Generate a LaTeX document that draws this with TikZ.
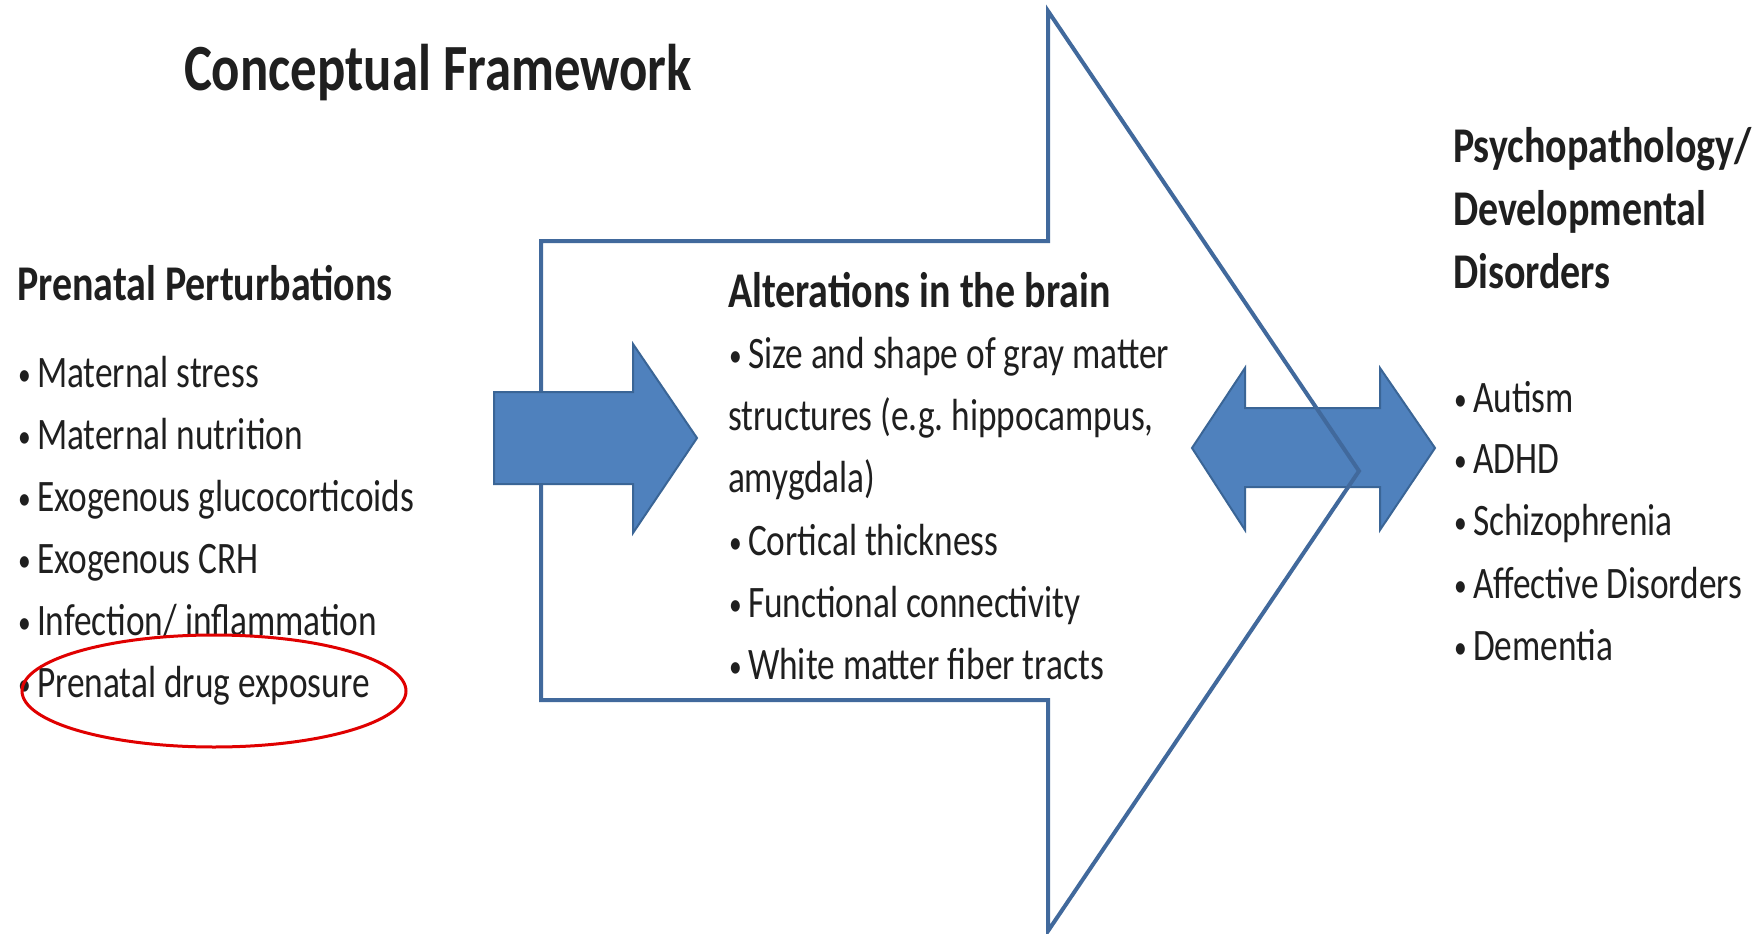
\documentclass[tikz,border=0pt]{standalone}
\usepackage{fontspec}
\usepackage{graphicx}
\setmainfont{Carlito}[FakeStretch=0.8]
\newfontfamily\bodyfont{Carlito}[FakeStretch=0.785]
\definecolor{arrfill}{HTML}{4F81BD}
\definecolor{arrline}{HTML}{3A6596}
\definecolor{outl}{HTML}{41699C}
\definecolor{ovalred}{HTML}{E00000}
\newcommand{\bul}{\makebox[18pt][l]{\hspace{-1pt}\raisebox{2pt}{\scalebox{0.72}{•}}}}
\frenchspacing
\begin{document}
\begin{tikzpicture}[x=1pt,y=-1pt,
  txt/.style={anchor=base west, inner sep=0pt, outer sep=0pt, font=\bodyfont\fontsize{45}{54}\selectfont\frenchspacing, text=black!88},
  hd/.style={anchor=base west, inner sep=0pt, outer sep=0pt, text=black!88, font=\fontsize{50}{60}\selectfont\bfseries},
  ttl/.style={hd, font=\fontsize{66}{78}\selectfont\bfseries},
  fatarrow/.style={fill=arrfill, draw=arrline, line width=2pt, line join=miter},
  outline/.style={draw=outl, line width=4pt, line join=miter}]
\useasboundingbox (0,0) rectangle (1757,934);
\fill[white] (0,0) rectangle (1757,934);
% double arrow
\draw[fatarrow] (1192,448) -- (1245,368) -- (1245,408) -- (1380,408) -- (1380,368) -- (1435,448)
  -- (1380,530) -- (1380,487) -- (1245,487) -- (1245,530) -- cycle;
% big outline arrow
\draw[outline] (541,241) -- (1048,241) -- (1048,11) -- (1359,471) -- (1048,931) -- (1048,700) -- (541,700) -- cycle;
% small right arrow
\draw[fatarrow] (494,392) -- (633,392) -- (633,344) -- (697,438) -- (633,533) -- (633,484) -- (494,484) -- cycle;
% title
\node[ttl] (title) at (184,90) {Conceptual Framework};
% left column
\node[hd] (lh) at (17,300) {Prenatal Perturbations};
\node[txt] (l1) at (19,387) {\bul Maternal stress};
\node[txt] (l2) at (19,449) {\bul Maternal nutrition};
\node[txt] (l3) at (19,511) {\bul Exogenous glucocorticoids};
\node[txt] (l4) at (19,573) {\bul Exogenous CRH};
\node[txt] (l5) at (19,635) {\bul Infection/ inflammation};
\node[txt] (l6) at (19,697) {\bul Prenatal drug exposure};
% red oval
\draw[ovalred, line width=3pt] (214,691) ellipse [x radius=192, y radius=56];
% middle column
\node[hd] (mh) at (728,307) {Alterations in the brain};
\node[txt] (m1) at (730,368) {\bul Size and shape of gray matter};
\node[txt] (m2) at (728,430) {structures (e.g. hippocampus,};
\node[txt] (m3) at (728,492) {amygdala)};
\node[txt] (m4) at (730,555) {\bul Cortical thickness};
\node[txt] (m5) at (730,617) {\bul Functional connectivity};
\node[txt] (m6) at (730,679) {\bul White matter fiber tracts};
% right column
\node[hd] (rh1) at (1453,162) {Psychopathology/};
\node[hd] (rh2) at (1453,225) {Developmental};
\node[hd] (rh3) at (1453,288) {Disorders};
\node[txt] (r1) at (1455,412) {\bul Autism};
\node[txt] (r2) at (1455,473) {\bul ADHD};
\node[txt] (r3) at (1455,535) {\bul Schizophrenia};
\node[txt] (r4) at (1455,598) {\bul Affective Disorders};
\node[txt] (r5) at (1455,660) {\bul Dementia};
\end{tikzpicture}
\end{document}
